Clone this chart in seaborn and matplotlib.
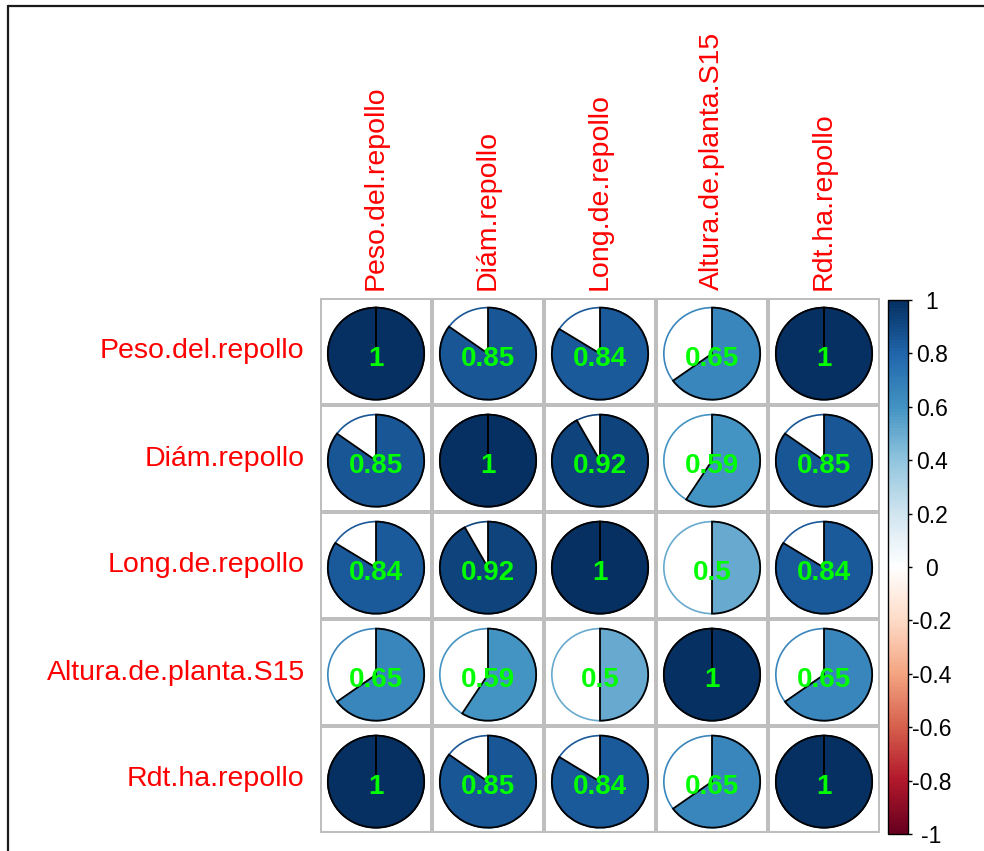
import numpy as np
import pandas as pd
import matplotlib
matplotlib.use("Agg")
import matplotlib.pyplot as plt
import seaborn as sns
from matplotlib.colors import LinearSegmentedColormap, ListedColormap, Normalize
from matplotlib.patches import Wedge, Ellipse
from matplotlib.lines import Line2D
from matplotlib.cm import ScalarMappable

# Variables and their pairwise correlations
variables = ["Peso.del.repollo", "Diám.repollo", "Long.de.repollo",
             "Altura.de.planta.S15", "Rdt.ha.repollo"]
corr_values = [
    [1.00, 0.85, 0.84, 0.65, 1.00],
    [0.85, 1.00, 0.92, 0.59, 0.85],
    [0.84, 0.92, 1.00, 0.50, 0.84],
    [0.65, 0.59, 0.50, 1.00, 0.65],
    [1.00, 0.85, 0.84, 0.65, 1.00],
]
cbar_ticks = [-1, -0.8, -0.6, -0.4, -0.2, 0, 0.2, 0.4, 0.6, 0.8, 1]

corr = pd.DataFrame(corr_values, index=variables, columns=variables)

sns.set_style("white")
plt.rcParams["font.family"] = ["Liberation Sans", "DejaVu Sans"]
plt.rcParams["axes.unicode_minus"] = False

# Diverging red-blue ramp
rdbu = LinearSegmentedColormap.from_list(
    "rdbu_corr",
    ["#67001F", "#B2182B", "#D6604D", "#F4A582", "#FDDBC7", "#FFFFFF",
     "#D1E5F0", "#92C5DE", "#4393C3", "#2166AC", "#053061"], N=200)
norm = Normalize(vmin=-1, vmax=1)

W, H = 984, 851
fig = plt.figure(figsize=(W / 100, H / 100), dpi=100)
ax = fig.add_axes([320 / W, 1 - 833 / H, 560 / W, 535 / H])

# Grid of white cells with the coefficient printed in each
sns.heatmap(corr, cmap=ListedColormap(["white"]), cbar=False,
            linewidths=1.5, linecolor="#BEBEBE",
            annot=True, fmt="g",
            annot_kws=dict(color="#00FF00", fontweight="bold", fontsize=20),
            ax=ax)
for t in ax.texts:
    x, y = t.get_position()
    t.set_position((x, y + 0.07))

# Pie glyph in every cell: filled sector proportional to |r|, clockwise from 12 o'clock
radius = 0.43
n = len(variables)
for i in range(n):
    for j in range(n):
        r = corr.iloc[i, j]
        col = rdbu(norm(r))
        cx, cy = j + 0.5, i + 0.5 + 0.02
        ax.add_patch(Ellipse((cx, cy), 2 * radius, 2 * radius, facecolor="white",
                             edgecolor=col, lw=1.2, zorder=2))
        span = min(abs(r) * 360.0, 359.9)
        ax.add_patch(Wedge((cx, cy), radius, -90, -90 + span, facecolor=col,
                           edgecolor="black", lw=1.3, zorder=2.1))

ax.tick_params(axis="y", length=0, pad=11, labelsize=20.5, labelcolor="red",
               labelrotation=0)
ax.tick_params(axis="x", length=0, pad=6, labelsize=20.5, labelcolor="red",
               top=True, labeltop=True, bottom=False, labelbottom=False,
               labelrotation=90)
for s in ax.spines.values():
    s.set_visible(False)

# Colour legend
cax = fig.add_axes([888 / W, 1 - 834 / H, 20 / W, 534 / H])
cb = fig.colorbar(ScalarMappable(norm=norm, cmap=rdbu), cax=cax, ticks=cbar_ticks)
cb.outline.set_edgecolor("black")
cb.outline.set_linewidth(1.0)
cax.set_yticklabels([f"{t:g}" for t in cbar_ticks])
cax.tick_params(axis="y", length=3, width=1, color="black", pad=14,
                labelsize=16.5, labelcolor="black")
for lab in cax.get_yticklabels():
    lab.set_horizontalalignment("center")

# Frame lines along the top and left edges of the figure
fig.add_artist(Line2D([8 / W, 8 / W], [0, 1 - 6 / H], transform=fig.transFigure,
                      color="#1a1a1a", lw=1.6))
fig.add_artist(Line2D([8 / W, 1], [1 - 6 / H, 1 - 6 / H], transform=fig.transFigure,
                      color="#1a1a1a", lw=1.6))

fig.savefig("out.png", dpi=100)
